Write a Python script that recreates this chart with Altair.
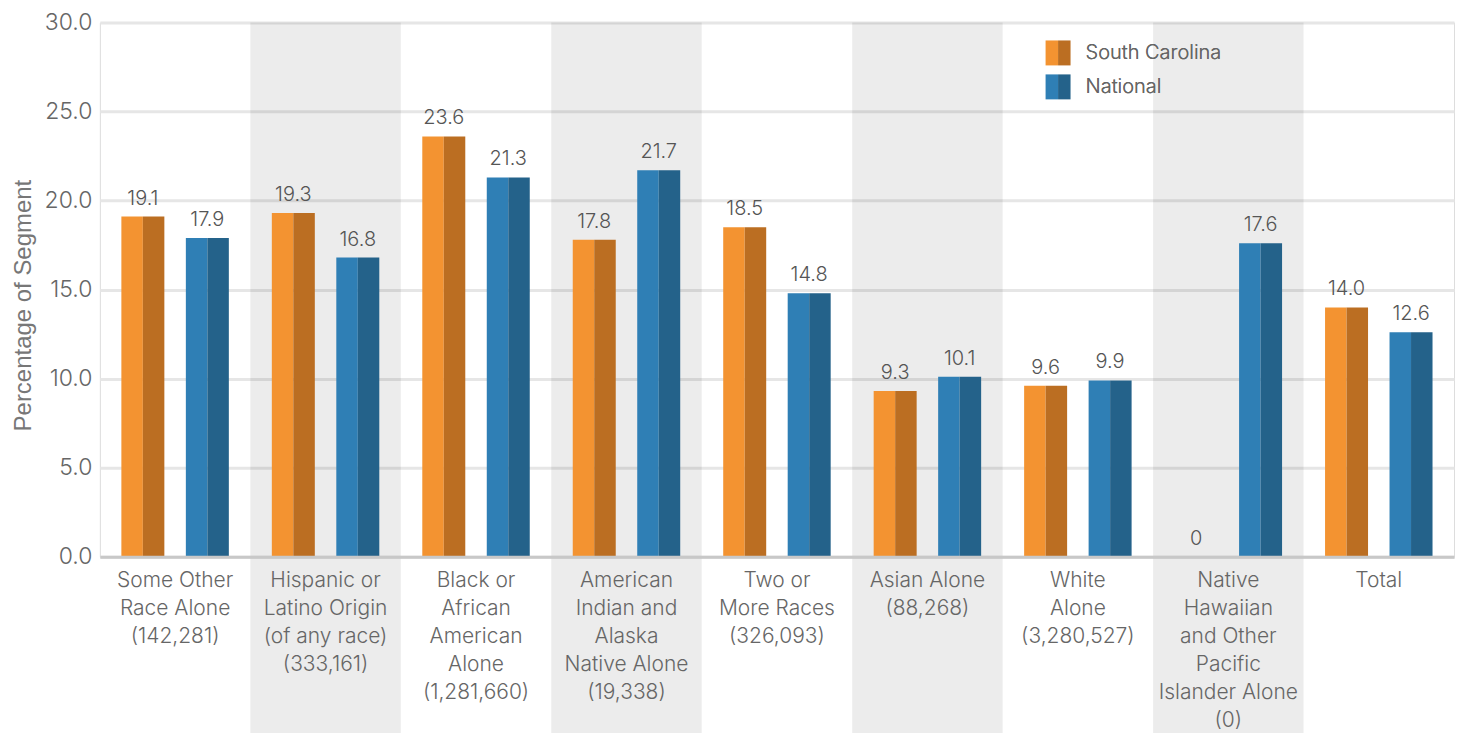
import altair as alt
import pandas as pd

categories = [
    "Some Other|Race Alone|(142,281)",
    "Hispanic or|Latino Origin|(of any race)|(333,161)",
    "Black or|African|American|Alone|(1,281,660)",
    "American|Indian and|Alaska|Native Alone|(19,338)",
    "Two or|More Races|(326,093)",
    "Asian Alone|(88,268)",
    "White|Alone|(3,280,527)",
    "Native|Hawaiian|and Other|Pacific|Islander Alone|(0)",
    "Total",
]
shaded = [categories[1], categories[3], categories[5], categories[7]]
series = ["South Carolina", "National"]
sc_values = [19.1, 19.3, 23.6, 17.8, 18.5, 9.3, 9.6, 0, 14.0]
nat_values = [17.9, 16.8, 21.3, 21.7, 14.8, 10.1, 9.9, 17.6, 12.6]
light_colors = ["#f39331", "#2f7fb5"]
dark_colors = ["#bb6e22", "#24628a"]
y_ticks = [0, 5, 10, 15, 20, 25, 30]

offset_domain = ["SC-L", "SC-R", "gap", "NA-L", "NA-R"]
keys = {"South Carolina": "SC", "National": "NA"}

rows = []
for cat, sv, nv in zip(categories, sc_values, nat_values):
    for s, v in (("South Carolina", sv), ("National", nv)):
        lab = "0" if v == 0 else f"{v:.1f}"
        for half in ("L", "R"):
            rows.append({"category": cat, "series": s, "half": half,
                         "key": f"{keys[s]}-{half}", "value": v, "label": lab})
df = pd.DataFrame(rows)
bands = pd.DataFrame({"category": shaded})

W, H = 1356, 535
FONT = "Inter"
LIGHT = 300

x_axis = alt.Axis(title=None, labelAngle=0, labelExpr="split(datum.label, '|')",
                  labelFontSize=21, labelColor="#666666", labelLineHeight=28,
                  labelFontWeight=LIGHT,
                  labelPadding=13, labelBaseline="top", ticks=False,
                  domainColor="#c8c8c8", domainWidth=3, grid=False, labelLimit=300)
y_axis = alt.Axis(values=y_ticks, format=".1f", labelFontSize=23, labelColor="#666666",
                  labelFontWeight=LIGHT,
                  ticks=False, domain=False, gridColor="#e6e6e6", gridWidth=3,
                  labelPadding=8, title="Percentage of Segment", titleFontSize=24,
                  titleFont="Liberation Sans",
                  titleColor="#777777", titleFontWeight="normal", titlePadding=9,
                  titleY=283)

x_scale = alt.Scale(domain=categories, paddingInner=0, paddingOuter=0)
y_scale = alt.Scale(domain=[0, 30], nice=False)
off_scale = alt.Scale(domain=offset_domain, paddingInner=0, paddingOuter=1)

x_enc = alt.X("category:N", scale=x_scale, sort=categories, axis=x_axis)

band_layer = alt.Chart(bands).mark_rect(color="#000000", opacity=0.075).encode(
    x=x_enc,
    y=alt.value(0),
    y2=alt.value(H + 200),
)


def legend(path):
    return alt.Legend(orient="none", legendX=947, legendY=18, title=None,
                      symbolType=path, symbolSize=625,
                      symbolStrokeWidth=0, symbolOpacity=1,
                      labelFontSize=20, labelColor="#666666", labelFontWeight=LIGHT,
                      labelOffset=15, rowPadding=9, labelFont=FONT)


left_layer = alt.Chart(df).transform_filter(alt.datum.half == "L").mark_bar().encode(
    x=x_enc,
    xOffset=alt.XOffset("key:N", scale=off_scale),
    y=alt.Y("value:Q", scale=y_scale, axis=y_axis),
    color=alt.Color("series:N", scale=alt.Scale(domain=series, range=light_colors),
                    legend=legend("M-1,-1H0V1H-1Z")),
)

right_layer = alt.Chart(df).transform_filter(alt.datum.half == "R").mark_bar().encode(
    x=x_enc,
    xOffset=alt.XOffset("key:N", scale=off_scale),
    y=alt.Y("value:Q", scale=y_scale, axis=y_axis),
    color=alt.Color("series:N", scale=alt.Scale(domain=series, range=dark_colors),
                    legend=legend("M0,-1H1V1H0Z")),
)

text_layer = alt.Chart(df).transform_filter(alt.datum.half == "L").mark_text(
    dx=10.75, dy=-12, baseline="alphabetic", fontSize=20, color="#555555", font=FONT,
    fontWeight=LIGHT,
).encode(
    x=x_enc,
    xOffset=alt.XOffset("key:N", scale=off_scale),
    y=alt.Y("value:Q", scale=y_scale, axis=y_axis),
    text="label:N",
)

chart = alt.layer(band_layer, left_layer, right_layer, text_layer).resolve_scale(
    color="independent"
).properties(
    width=W, height=H,
    autosize=alt.AutoSizeParams(type="none"),
    padding={"left": 92, "top": 14, "right": 13, "bottom": 176},
    background="white",
).configure_view(stroke=None).configure(font=FONT)

chart.save("out.html", embed_options={"renderer": "svg", "actions": False})
